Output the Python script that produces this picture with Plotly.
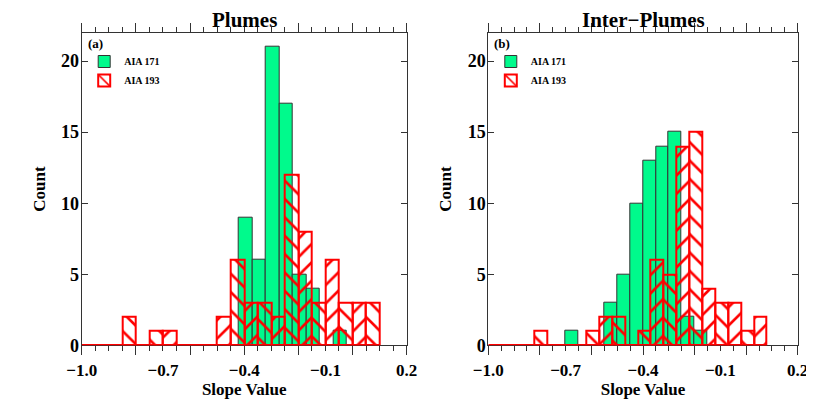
import plotly.graph_objects as go

# ---------------- data ----------------
BIN_WIDTH = 0.05
X_RANGE = [-1.0, 0.2]
Y_RANGE = [0, 22]
x_label_ticks = [-1.0, -0.7, -0.4, -0.1, 0.2]

titles = ["Plumes", "Inter\u2212Plumes"]
panel_tags = ["(a)", "(b)"]
series_names = ["AIA 171", "AIA 193"]

# Plumes (a)
plumes_171_start = -0.42
plumes_171_counts = [9, 6, 21, 17, 5, 4, 0, 1]
plumes_193_start = -0.85
plumes_193_counts = [2, 0, 1, 1, 0, 0, 0, 2, 6, 3, 3, 2, 12, 8, 3, 6, 3, 3, 3]

# Inter-plumes (b)
inter_171_start = -0.70
inter_171_counts = [1, 0, 0, 3, 5, 10, 13, 14, 15, 2, 1]
inter_193_start = -0.82
inter_193_counts = [1, 0, 0, 0, 1, 2, 2, 0, 1, 6, 5, 14, 15, 4, 3, 3, 1, 2]

# ---------------- style ----------------
OFF = 8                      # page body margin of the browser
FW, FH = 814 - OFF, 407 - OFF
FONT = "Liberation Serif"
GREEN = "#00FA8C"
RED = "#FF0000"
AXC = "#333333"

# panel placement in screen pixels
panels_px = [
    dict(x0=81.7, x1=406.7),
    dict(x0=488.3, x1=797.7),
]
Y_TOP_PX, Y_BOT_PX = 32.7, 345.3


def px2fx(p):
    return (p - OFF) / FW


def px2fy(p):
    return (FH - (p - OFF)) / FH


def centers(start, counts):
    return [start + (i + 0.5) * BIN_WIDTH for i in range(len(counts))]


fig = go.Figure()

data_sets = [
    (plumes_171_start, plumes_171_counts, plumes_193_start, plumes_193_counts),
    (inter_171_start, inter_171_counts, inter_193_start, inter_193_counts),
]

for p, (s171, c171, s193, c193) in enumerate(data_sets):
    xa = "x" if p == 0 else "x2"
    ya = "y" if p == 0 else "y2"
    xlab = "x3" if p == 0 else "x4"
    leg = "legend" if p == 0 else "legend2"

    fig.add_trace(go.Bar(
        x=centers(s171, c171), y=c171, width=BIN_WIDTH,
        name=series_names[0], xaxis=xa, yaxis=ya, legend=leg,
        marker=dict(color=GREEN, line=dict(color=AXC, width=1)),
        cliponaxis=False,
    ))
    shapes = ["\\" if i % 2 == 0 else "/" for i in range(len(c193))]
    fig.add_trace(go.Bar(
        x=centers(s193, c193), y=c193, width=BIN_WIDTH,
        name=series_names[1], xaxis=xa, yaxis=ya, legend=leg,
        marker=dict(
            color="rgba(0,0,0,0)",
            line=dict(color=RED, width=2),
            pattern=dict(shape=shapes, fgcolor=RED, bgcolor="rgba(0,0,0,0)",
                         fillmode="replace", size=13, solidity=0.2),
        ),
        cliponaxis=False,
    ))
    # histogram baseline (red step line at zero)
    fig.add_trace(go.Scatter(
        x=[X_RANGE[0], s193 + len(c193) * BIN_WIDTH], y=[0, 0],
        mode="lines", line=dict(color=RED, width=2.5),
        xaxis=xa, yaxis=ya, showlegend=False, cliponaxis=False,
        hoverinfo="skip",
    ))
    # label-only overlay axis trace
    fig.add_trace(go.Scatter(
        x=[None], y=[None], xaxis=xlab, yaxis=ya, showlegend=False,
        hoverinfo="skip",
    ))

layout = dict(
    width=FW, height=FH,
    margin=dict(l=0, r=0, t=0, b=0, autoexpand=False),
    paper_bgcolor="white", plot_bgcolor="white",
    barmode="overlay", bargap=0,
    font=dict(family=FONT, color="black"),
    showlegend=True,
)

for p in range(2):
    sfx = "" if p == 0 else "2"
    lsfx = "3" if p == 0 else "4"
    dom = [px2fx(panels_px[p]["x0"]), px2fx(panels_px[p]["x1"])]
    ydom = [px2fy(Y_BOT_PX), px2fy(Y_TOP_PX)]
    yname = "y" + sfx
    xname = "x" + sfx
    layout["xaxis" + sfx] = dict(
        domain=dom, range=X_RANGE, anchor=yname, automargin=False,
        showline=True, linecolor=AXC, linewidth=1, mirror="ticks",
        ticks="outside", tickmode="linear", tick0=-1.0, dtick=0.2,
        ticklen=9, tickwidth=1, tickcolor=AXC,
        minor=dict(ticks="outside", dtick=0.05, tick0=-1.0, ticklen=4.5,
                   tickcolor=AXC, tickwidth=1, showgrid=False),
        showticklabels=False, showgrid=False, zeroline=False,
        layer="below traces",
    )
    layout["xaxis" + lsfx] = dict(
        overlaying=xname, anchor=yname, range=X_RANGE, automargin=False,
        tickmode="array", tickvals=x_label_ticks, tickformat=".1f",
        ticks="", showline=False, showgrid=False, zeroline=False,
        tickfont=dict(family=FONT, size=17, weight="bold"),
        ticklabelstandoff=13,
        title=dict(text="Slope Value", standoff=2,
                   font=dict(family=FONT, size=17, weight="bold")),
    )
    layout["yaxis" + sfx] = dict(
        domain=ydom, range=Y_RANGE, anchor=xname, automargin=False,
        showline=True, linecolor=AXC, linewidth=1, mirror="ticks",
        ticks="inside", tickmode="linear", tick0=0, dtick=5,
        ticklen=6, tickwidth=1, tickcolor=AXC,
        tickfont=dict(family=FONT, size=18, weight="bold"),
        ticklabelstandoff=-2,
        showgrid=False, zeroline=False,
        title=dict(text="Count", standoff=11,
                   font=dict(family=FONT, size=17, weight="bold")),
    )
    legkey = "legend" if p == 0 else "legend2"
    layout[legkey] = dict(
        x=px2fx(panels_px[p]["x0"] + 2.5), y=px2fy(47), xanchor="left", yanchor="top",
        bgcolor="rgba(0,0,0,0)", borderwidth=0,
        font=dict(family=FONT, size=10, weight="bold"),
        tracegroupgap=0,
    )

annotations = []
for p in range(2):
    cx = (panels_px[p]["x0"] + panels_px[p]["x1"]) / 2
    annotations.append(dict(
        text=titles[p], x=px2fx(cx), y=px2fy(19.5), xref="paper", yref="paper",
        xanchor="center", yanchor="middle", showarrow=False,
        font=dict(family=FONT, size=21, weight="bold"),
    ))
    annotations.append(dict(
        text=panel_tags[p], x=px2fx(panels_px[p]["x0"] + 4), y=px2fy(43),
        xref="paper", yref="paper", xanchor="left", yanchor="middle",
        showarrow=False, font=dict(family=FONT, size=13, weight="bold"),
    ))
layout["annotations"] = annotations

fig.update_layout(**layout)
fig.write_html("out.html")
